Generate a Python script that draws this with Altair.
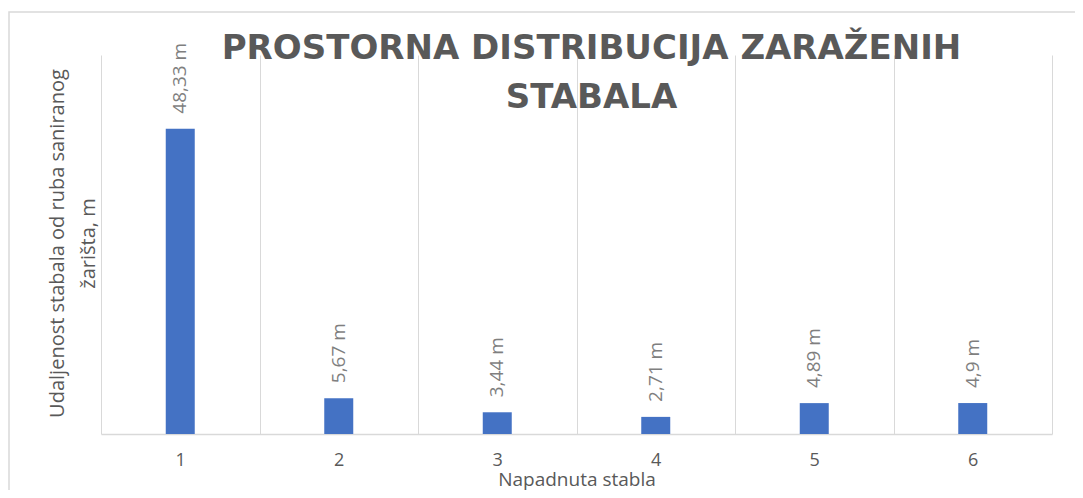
import altair as alt
import pandas as pd

categories = ["1", "2", "3", "4", "5", "6"]
values = [48.33, 5.67, 3.44, 2.71, 4.89, 4.9]
labels = ["48,33 m", "5,67 m", "3,44 m", "2,71 m", "4,89 m", "4,9 m"]

df = pd.DataFrame({"stablo": categories, "udaljenost": values, "oznaka": labels})

FONT = "Open Sans"
GREY = "#595959"

x_enc = alt.X(
    "stablo:N",
    sort=categories,
    scale=alt.Scale(paddingInner=0, paddingOuter=0),
    axis=alt.Axis(
        title="Napadnuta stabla",
        labelAngle=0,
        labelFont=FONT,
        labelFontSize=18,
        labelColor=GREY,
        labelPadding=17,
        titleFont=FONT,
        titleFontSize=19,
        titleFontWeight="normal",
        titleColor=GREY,
        titlePadding=1,
        grid=True,
        gridColor="#d9d9d9",
        gridWidth=1,
        tickBand="extent",
        ticks=False,
        domainColor="#d9d9d9",
        domainWidth=1.5,
    ),
)

y_enc = alt.Y(
    "udaljenost:Q",
    scale=alt.Scale(domain=[0, 60], nice=False),
    axis=alt.Axis(
        title=["Udaljenost stabala od ruba saniranog", "žarišta, m"],
        labels=False,
        ticks=False,
        domain=False,
        grid=False,
        titleFont=FONT,
        titleFontSize=20,
        titleFontWeight="normal",
        titleColor=GREY,
        titleAngle=270,
        titleAlign="center",
        titleBaseline="middle",
        titleLineHeight=31,
        titleX=-44,
        titleY=188,
    ),
)

bars = alt.Chart(df).mark_bar(color="#4472C4", width=29).encode(x=x_enc, y=y_enc)

text = alt.Chart(df).mark_text(
    angle=270,
    align="left",
    baseline="middle",
    dx=15,
    font=FONT,
    fontSize=19,
    color="#7f7f7f",
).encode(x=alt.X("stablo:N", sort=categories), y="udaljenost:Q", text="oznaka:N")

border = alt.Chart(pd.DataFrame({"a": [0]})).mark_rect(
    fill=None, fillOpacity=0, stroke="#d9d9d9", strokeWidth=1.5
).encode(
    x=alt.value(-92), x2=alt.value(1100), y=alt.value(-43), y2=alt.value(520)
)

chart = (
    alt.layer(border, bars, text)
    .properties(
        width=951,
        height=379,
        autosize=alt.AutoSizeParams(type="none"),
        padding={"left": 93, "top": 47, "right": 23, "bottom": 56},
        title=alt.TitleParams(
            text=["PROSTORNA DISTRIBUCIJA ZARAŽENIH", "STABALA"],
            font="DejaVu Sans",
            fontSize=34,
            fontWeight="bold",
            color=GREY,
            anchor="middle",
            frame="group",
            lineHeight=49,
            dx=15,
            baseline="top",
            offset=0,
            dy=104,
        ),
        background="white",
    )
    .configure_view(stroke=None)
)

chart.save("out.html", embed_options={"renderer": "svg", "actions": False})
